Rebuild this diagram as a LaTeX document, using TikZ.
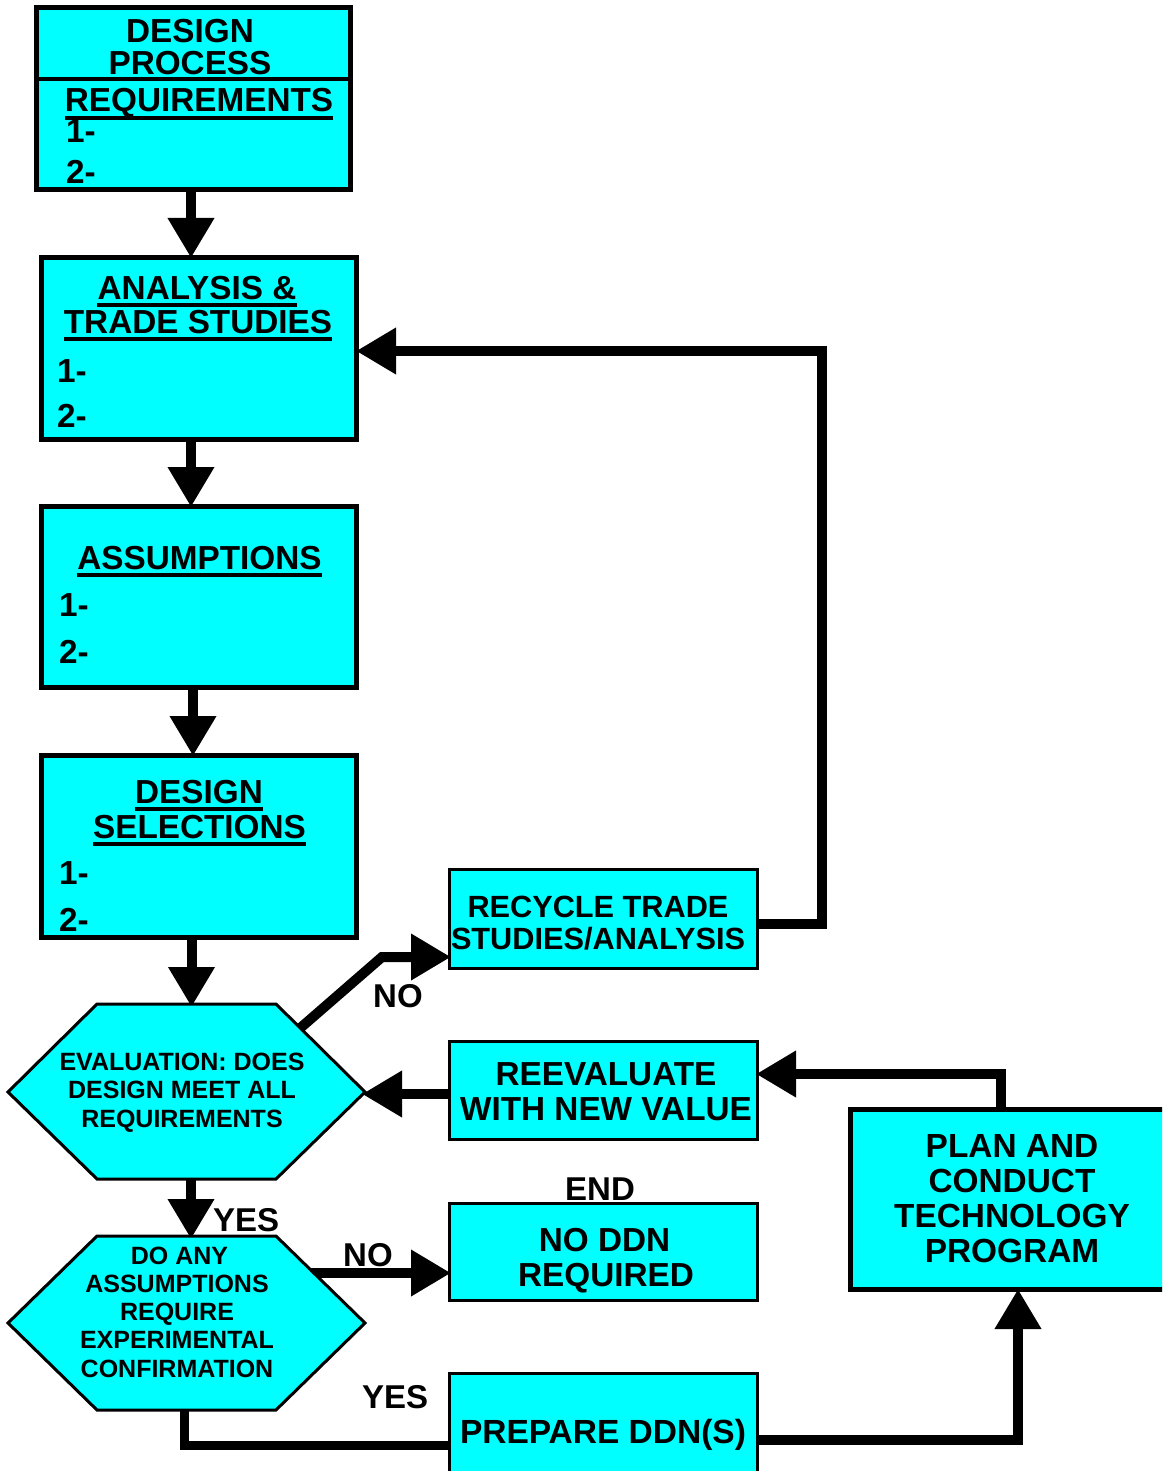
\documentclass[tikz,border=0pt]{standalone}
\usepackage{fontspec}
\setmainfont{Liberation Sans}
\usetikzlibrary{arrows.meta}
\definecolor{boxcyan}{HTML}{00FFFF}
\pgfdeclarelayer{background}
\pgfdeclarelayer{paper}
\pgfsetlayers{paper,background,main}
\tikzset{
  bigbox/.style={draw, line width=5pt, fill=boxcyan, inner sep=0pt},
  smallbox/.style={draw, line width=3pt, fill=boxcyan, inner sep=0pt},
  hexshape/.style={draw, line width=3pt, fill=boxcyan, line join=miter},
  txt/.style={inner sep=0pt, anchor=base, font=\bfseries\fontsize{#1}{#1}\selectfont},
  txt/.default=33.3,
  ltxt/.style={txt=#1, anchor=base west},
  ltxt/.default=33.3,
  arr/.style={line width=10pt, line join=miter, shorten >=-3pt, -{Triangle[length=40pt,width=44pt]}},
  conn/.style={line width=9pt, line join=miter},
  uline/.style={line width=4pt}
}
\newcommand{\uln}[1]{\draw[uline] ([yshift=-6pt]#1.base west) -- ([yshift=-6pt]#1.base east);}
\begin{document}
\begin{tikzpicture}[x=1pt,y=-1pt]
\useasboundingbox (0,0) rectangle (1162,1471);
\begin{pgfonlayer}{paper}
\fill[white] (0,0) rectangle (1162,1471);
\end{pgfonlayer}
\clip (0,0) rectangle (1162,1471);

% ---------- boxes ----------
\node[bigbox, minimum width=314pt, minimum height=182pt] (box1) at (193.5,98.5) {};
\node[bigbox, minimum width=315pt, minimum height=182pt] (box2) at (199,348.5) {};
\node[bigbox, minimum width=315pt, minimum height=181pt] (box3) at (199,597) {};
\node[bigbox, minimum width=315pt, minimum height=182pt] (box4) at (199,846.5) {};
\node[smallbox, minimum width=308pt, minimum height=99pt] (recycle) at (603.5,919) {};
\node[smallbox, minimum width=308pt, minimum height=98pt] (reeval) at (603.5,1090.5) {};
\node[smallbox, minimum width=308pt, minimum height=97pt] (noddn) at (603.5,1252) {};
\node[smallbox, minimum width=308pt, minimum height=107pt] (prep) at (603.5,1427) {};
\node[bigbox, minimum width=324pt, minimum height=180pt] (plan) at (1012.5,1199.5) {};

% divider in box 1
\draw[line width=4pt] (36.5,79) -- (348,79);

% ---------- hexagons ----------
\draw[hexshape] (97,1004) coordinate (ev-tl) -- (276,1004) coordinate (ev-tr)
  -- (365,1092) coordinate (ev-r) -- (276,1179) coordinate (ev-br)
  -- (97,1179) coordinate (ev-bl) -- (8,1092) coordinate (ev-l) -- cycle;
\draw[hexshape] (97,1236) coordinate (q-tl) -- (276,1236) coordinate (q-tr)
  -- (365,1323) coordinate (q-r) -- (276,1410) coordinate (q-br)
  -- (97,1410) coordinate (q-bl) -- (8,1323) coordinate (q-l) -- cycle;

\coordinate (ev-top) at (191.5,1004);
\coordinate (ev-bot) at (191,1179);
\coordinate (ev-ne) at (298,1030);
\coordinate (no-bend) at (382,957);
\coordinate (q-top) at (191,1236);
\coordinate (q-no) at (308,1273);
\coordinate (q-bot) at (184,1408);
\coordinate (loop-x) at (822,0);
\coordinate (plan-x) at (1001,0);
\coordinate (prep-x) at (1018,0);

% ---------- connectors ----------
\begin{pgfonlayer}{background}
\draw[arr] (box1.south -| 191,0) -- (box2.north -| 191,0);
\draw[arr] (box2.south -| 191,0) -- (box3.north -| 191,0);
\draw[arr] (box3.south -| 193,0) -- (box4.north -| 193,0);
\draw[arr] (box4.south -| ev-top) -- (ev-top);
\draw[arr] (ev-bot) -- (q-top);
\draw[arr] (ev-ne) -- (no-bend) -- (recycle.west |- no-bend);
\draw[arr] (recycle.east |- 0,924) -| (loop-x |- 0,351) -- (box2.east |- 0,351);
\draw[arr] (reeval.west |- 0,1094) -- (ev-r |- 0,1094);
\draw[arr] (plan.north -| plan-x) |- (reeval.east |- 0,1074);
\draw[arr] (q-no) -- (noddn.west |- q-no);
\draw[conn] (q-bot) |- (prep.west |- 0,1445);
\draw[arr] (prep.east |- 0,1440) -| (plan.south -| prep-x);
\end{pgfonlayer}

% ---------- texts ----------
\node[txt] (b1t1) at (190,43) {DESIGN};
\node[txt] (b1t2) at (190,75) {PROCESS};
\node[txt] (b1t3) at (199,112) {REQUIREMENTS};
\uln{b1t3}
\node[ltxt] (b1n1) at (66,143) {1-};
\node[ltxt] (b1n2) at (66,184) {2-};

\node[txt] (b2t1) at (197,299) {ANALYSIS \&};
\uln{b2t1}
\node[txt] (b2t2) at (198,333) {TRADE STUDIES};
\uln{b2t2}
\node[ltxt] (b2n1) at (57,382) {1-};
\node[ltxt] (b2n2) at (57,427) {2-};

\node[txt] (b3t1) at (199.5,569) {ASSUMPTIONS};
\uln{b3t1}
\node[ltxt] (b3n1) at (59,616) {1-};
\node[ltxt] (b3n2) at (59,663) {2-};

\node[txt] (b4t1) at (199,803) {DESIGN};
\uln{b4t1}
\node[txt] (b4t2) at (199.5,838) {SELECTIONS};
\uln{b4t2}
\node[ltxt] (b4n1) at (59,884) {1-};
\node[ltxt] (b4n2) at (59,931) {2-};

\node[txt=25] (ev1) at (182,1070) {EVALUATION: DOES};
\node[txt=25] (ev2) at (182,1098) {DESIGN MEET ALL};
\node[txt=25] (ev3) at (182,1127) {REQUIREMENTS};

\node[txt=25] (q1) at (179.5,1264) {DO ANY};
\node[txt=25] (q2) at (177,1292) {ASSUMPTIONS};
\node[txt=25] (q3) at (177,1320) {REQUIRE};
\node[txt=25] (q4) at (177,1348) {EXPERIMENTAL};
\node[txt=25] (q5) at (177,1377) {CONFIRMATION};

\node[txt=30.7] (rc1) at (598,917) {RECYCLE TRADE};
\node[txt=30.7] (rc2) at (598,949) {STUDIES/ANALYSIS};

\node[txt] (re1) at (606,1085) {REEVALUATE};
\node[txt] (re2) at (606,1120) {WITH NEW VALUE};

\node[txt] (nd1) at (604.5,1251) {NO DDN};
\node[txt] (nd2) at (606,1286) {REQUIRED};
\node[txt=33] (endl) at (600,1200) {END};

\node[txt=33.5] (pr1) at (603,1443) {PREPARE DDN(S)};

\node[txt=33.4] (pl1) at (1012,1157) {PLAN AND};
\node[txt=33.4] (pl2) at (1012,1192) {CONDUCT};
\node[txt=33.4] (pl3) at (1012,1227) {TECHNOLOGY};
\node[txt=33.4] (pl4) at (1012,1262) {PROGRAM};

\node[ltxt=33] (yes1) at (213,1231) {YES};
\node[ltxt=33] (no1) at (373,1007) {NO};
\node[ltxt=33] (no2) at (343,1266) {NO};
\node[ltxt=33] (yes2) at (362,1408) {YES};
\end{tikzpicture}
\end{document}
